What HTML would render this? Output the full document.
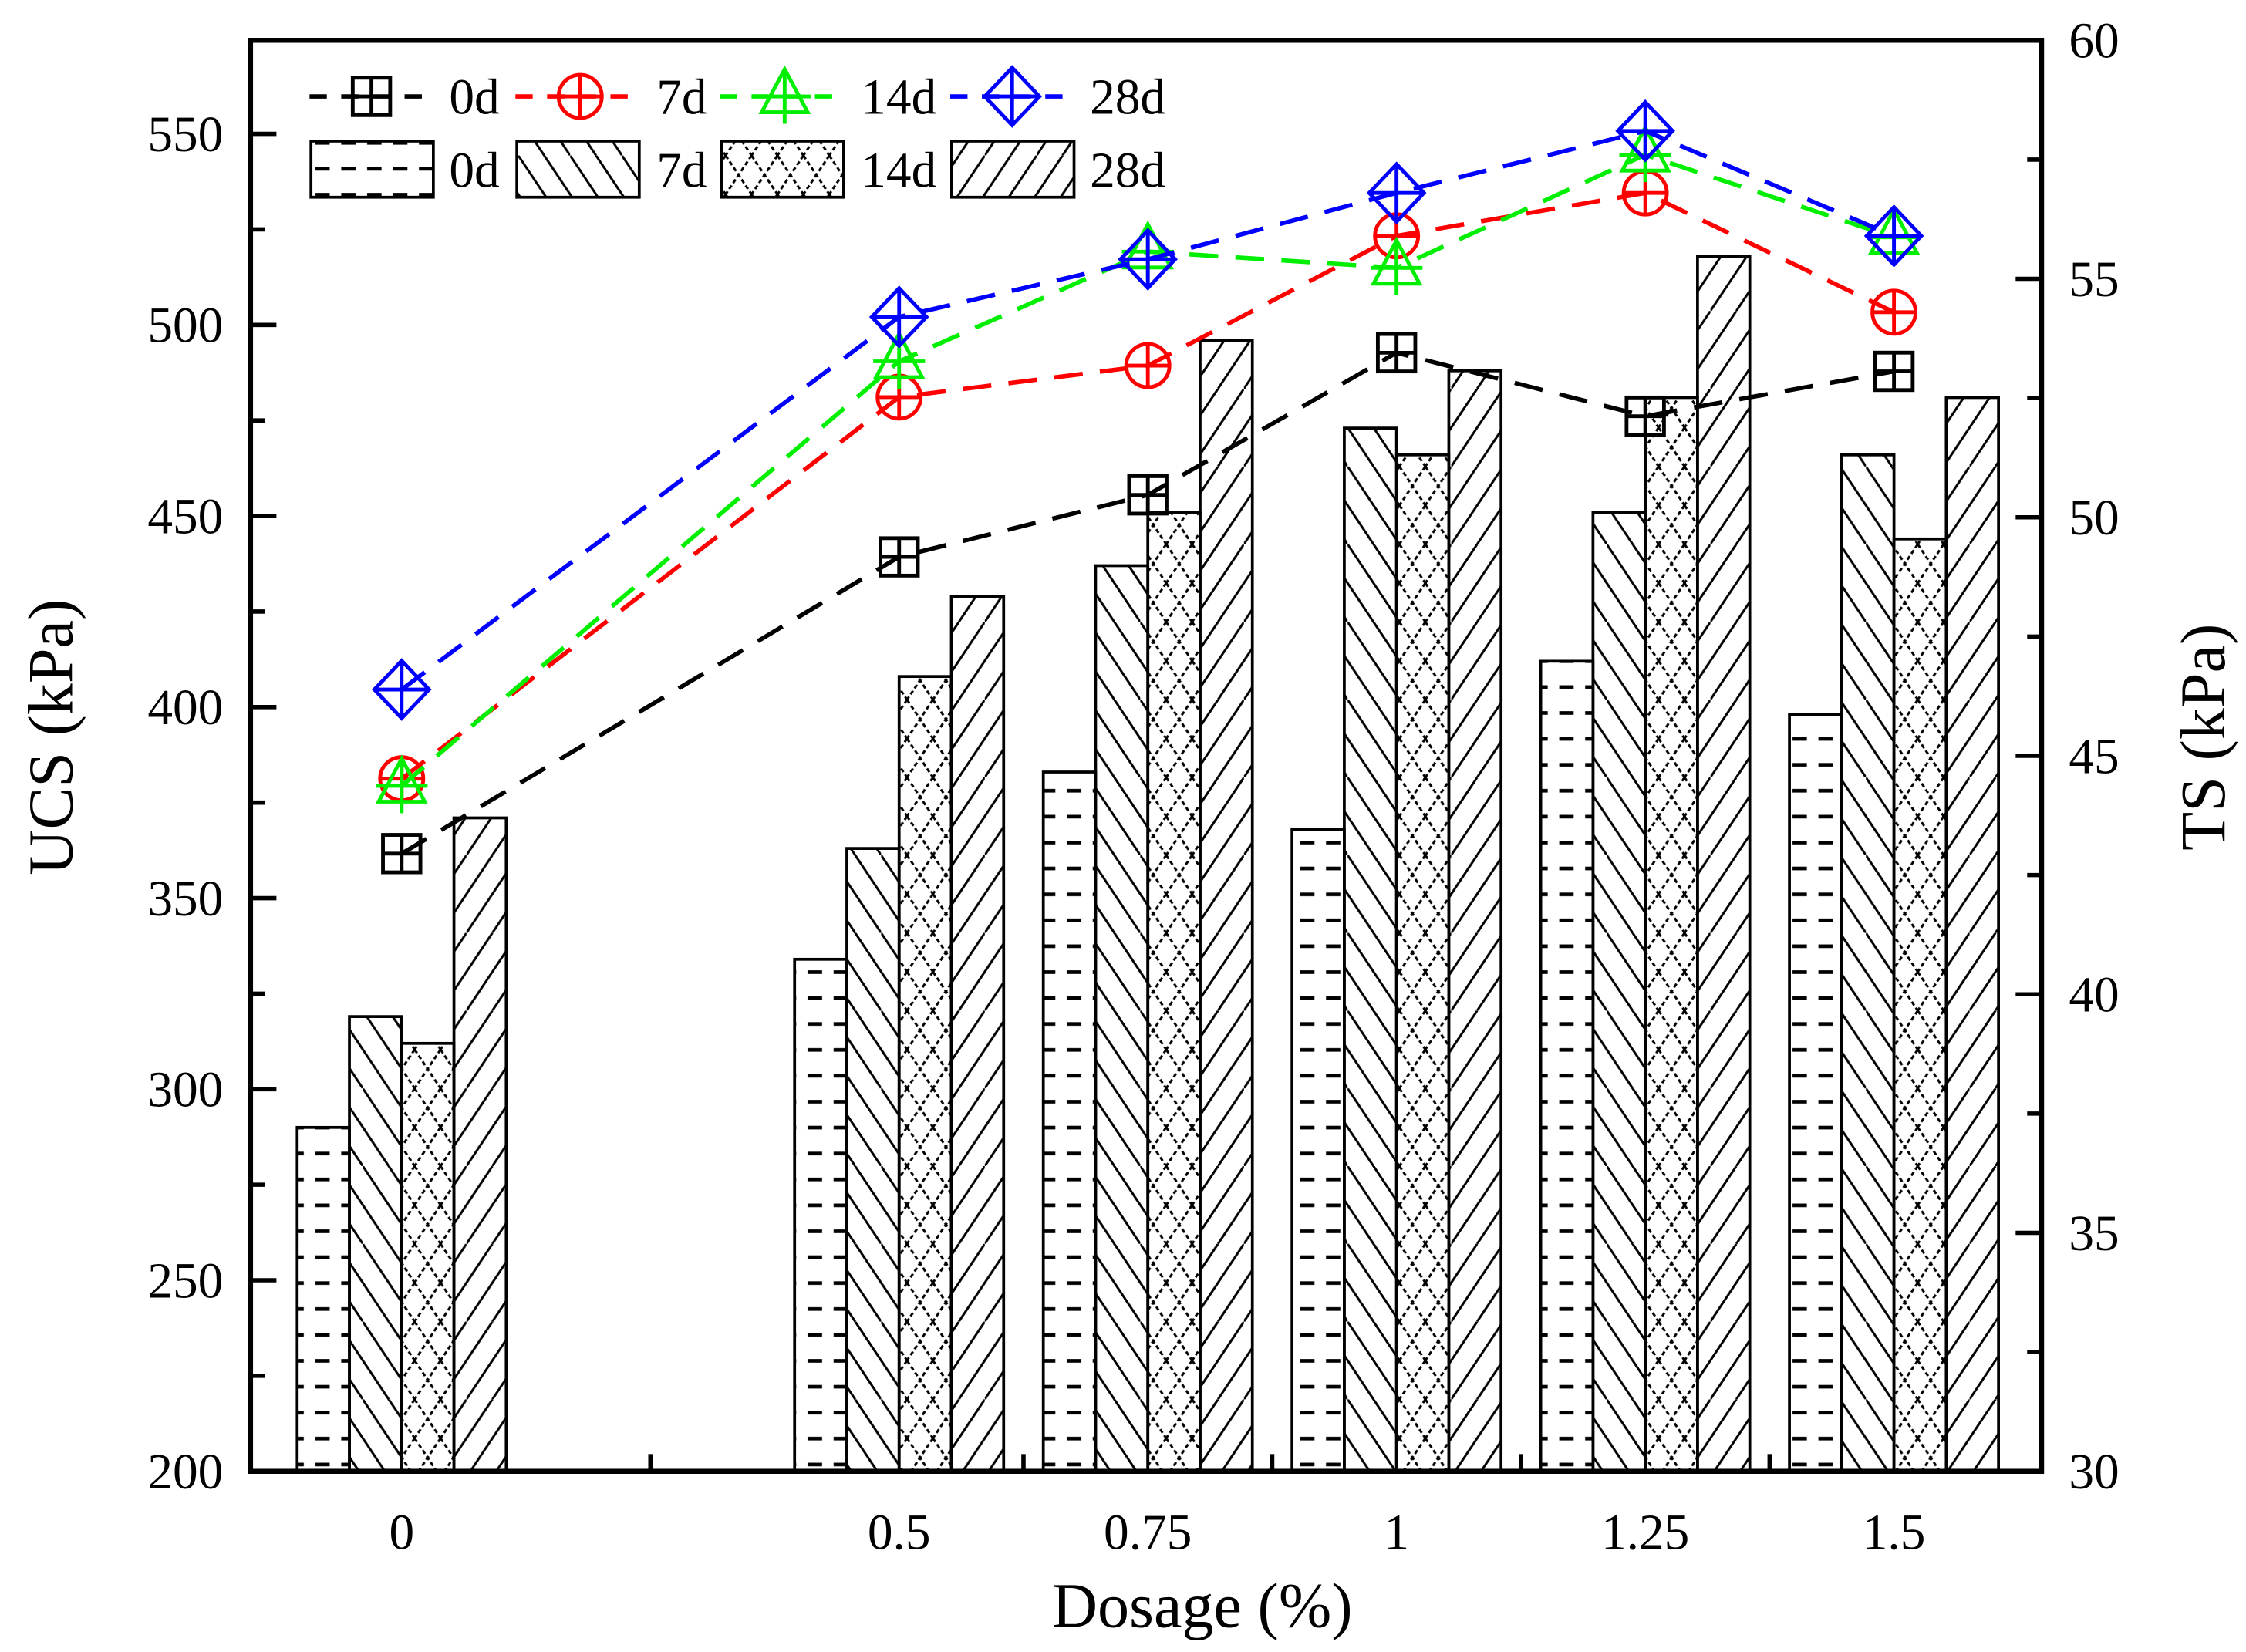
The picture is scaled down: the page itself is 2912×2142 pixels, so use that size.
<!DOCTYPE html>
<html><head><meta charset="utf-8"><style>
html,body{margin:0;padding:0;background:#fff;}
svg{display:block;font-family:"Liberation Serif",serif;}
</style></head><body>
<svg id="chart" width="2912" height="2142" viewBox="0 0 1560 1147.5" xmlns="http://www.w3.org/2000/svg">
<defs>
<pattern id="p0" patternUnits="userSpaceOnUse" width="36" height="18" x="0" y="0"><rect x="3" y="8" width="10" height="2.5" fill="#000"/><rect x="21" y="8" width="10" height="2.5" fill="#000"/></pattern>
<pattern id="p7" patternUnits="userSpaceOnUse" width="36" height="54"><path d="M-18,0 L18,54 M0,0 L36,54 M18,0 L54,54 M-18,-54 L54,54" stroke="#000" stroke-width="1.6"/></pattern>
<pattern id="p14" patternUnits="userSpaceOnUse" width="18" height="27"><path d="M0,0 L18,27 M18,0 L0,27" stroke="#000" stroke-width="1.6" stroke-dasharray="3,2"/></pattern>
<pattern id="p28" patternUnits="userSpaceOnUse" width="36" height="54"><path d="M-18,54 L18,0 M0,54 L36,0 M18,54 L54,0" stroke="#000" stroke-width="1.6"/></pattern>
</defs>
<g id="bars"></g>
<g id="lines"></g>
<g id="axes"></g>
<g id="legend"></g>
</svg>
<script>
const dosages=[0,0.5,0.75,1,1.25,1.5];
const xTickLabels=["0","0.5","0.75","1","1.25","1.5"];
const ucs0=[290,334,383,368,412,398];
const ucs7=[319,363,437,473,451,466];
const ucs14=[312,408,451,466,481,444];
const ucs28=[371,429,496,488,518,481];
const ts0=[42.95,49.17,50.47,53.45,52.12,53.06];
const ts7=[44.52,52.52,53.18,55.9,56.8,54.3];
const ts14=[44.37,53.27,55.57,55.23,57.6,55.87];
const ts28=[46.39,54.2,55.41,56.8,58.1,55.9];
const leftTicks=[200,250,300,350,400,450,500,550];
const rightTicks=[30,35,40,45,50,55,60];

const NS="http://www.w3.org/2000/svg";
const L=174,R=1418,T=28,B=1022;
const xs=d=>279+d*691;
const yl=v=>B-(v-200)*(B-93)/350;
const yr=v=>B-(v-30)*(B-T)/30;
function mk(tag,attrs,parent,text){const e=document.createElementNS(NS,tag);for(const k in attrs)e.setAttribute(k,attrs[k]);if(text!==undefined)e.textContent=text;parent.appendChild(e);return e;}
const gb=document.getElementById('bars'),gl=document.getElementById('lines'),ga=document.getElementById('axes'),gg=document.getElementById('legend');
const bw=36.3;
const barSets=[[ucs0,'p0','0d'],[ucs7,'p7','7d'],[ucs14,'p14','14d'],[ucs28,'p28','28d']];
barSets.forEach((s,si)=>{s[0].forEach((v,i)=>{
 const x=xs(dosages[i])-2*bw+si*bw;
 const r=mk('rect',{x:x,y:yl(v),width:bw,height:B-yl(v),fill:'url(#'+s[1]+')',stroke:'#000','stroke-width':2},gb);
 
 
});});
function marker(type,cx,cy,col,g){
 const a={fill:'none',stroke:col,'stroke-width':2.6};
 if(type==='sq'){mk('rect',Object.assign({x:cx-13,y:cy-13,width:26,height:26},a),g);mk('path',Object.assign({d:`M${cx-13},${cy}H${cx+13}M${cx},${cy-13}V${cy+13}`},a),g);}
 if(type==='ci'){mk('circle',Object.assign({cx:cx,cy:cy,r:15},a),g);mk('path',Object.assign({d:`M${cx-15},${cy}H${cx+15}M${cx},${cy-15}V${cy+15}`},a),g);}
 if(type==='tr'){mk('path',Object.assign({d:`M${cx},${cy-19}L${cx+16},${cy+11}L${cx-16},${cy+11}Z M${cx-18},${cy}H${cx+18}M${cx},${cy-19}V${cy+19}`},a),g);}
 if(type==='di'){mk('path',Object.assign({d:`M${cx},${cy-20}L${cx+19},${cy}L${cx},${cy+20}L${cx-19},${cy}Z M${cx-19},${cy}H${cx+19}M${cx},${cy-20}V${cy+20}`},a),g);}
}
const lineSets=[[ts0,'#000','sq','0d'],[ts7,'#f00','ci','7d'],[ts14,'#0e0','tr','14d'],[ts28,'#00f','di','28d']];
lineSets.forEach(s=>{
 const g=mk('g',{},gl);
 
 
 const pts=s[0].map((v,i)=>xs(dosages[i])+','+yr(v)).join(' ');
 mk('polyline',{points:pts,fill:'none',stroke:s[1],'stroke-width':3,'stroke-dasharray':'20,12'},g);
 s[0].forEach((v,i)=>marker(s[2],xs(dosages[i]),yr(v),s[1],g));
});
// axes
mk('rect',{x:L,y:T,width:R-L,height:B-T,fill:'none',stroke:'#000','stroke-width':3.5},ga);
leftTicks.forEach(v=>{mk('line',{x1:L,x2:L+18,y1:yl(v),y2:yl(v),stroke:'#000','stroke-width':3},ga);
 const t=mk('text',{x:155,y:yl(v)+12,'text-anchor':'end','font-size':35},ga,String(v));
 
 if(v<550){mk('line',{x1:L,x2:L+10,y1:yl(v+25),y2:yl(v+25),stroke:'#000','stroke-width':3},ga);}});
rightTicks.forEach(v=>{mk('line',{x1:R,x2:R-18,y1:yr(v),y2:yr(v),stroke:'#000','stroke-width':3},ga);
 const t=mk('text',{x:1437,y:yr(v)+12,'text-anchor':'start','font-size':35},ga,String(v));
 
 if(v<60){mk('line',{x1:R,x2:R-10,y1:yr(v+2.5),y2:yr(v+2.5),stroke:'#000','stroke-width':3},ga);}});
dosages.forEach((d,i)=>{
 const t=mk('text',{x:xs(d),y:1076,'text-anchor':'middle','font-size':35},ga,xTickLabels[i]);
 });
[0.25,0.625,0.875,1.125,1.375].forEach(d=>mk('line',{x1:xs(d),x2:xs(d),y1:B,y2:B-12,stroke:'#000','stroke-width':3},ga));
let t=mk('text',{x:835,y:1130,'text-anchor':'middle','font-size':44},ga,'Dosage (%)');

t=mk('text',{x:0,y:0,'text-anchor':'middle','font-size':44,transform:'translate(50,512) rotate(-90)'},ga,'UCS (kPa)');

t=mk('text',{x:0,y:0,'text-anchor':'middle','font-size':44,transform:'translate(1545,512) rotate(-90)'},ga,'TS (kPa)');

// legend
const lx=[[215,258,312],[358,403,456],[500,545,598],[660,703,757]];
lineSets.forEach((s,i)=>{
 const g=mk('g',{},gg);
 
 
 mk('line',{x1:lx[i][0],x2:lx[i][0]+87,y1:67,y2:67,stroke:s[1],'stroke-width':3,'stroke-dasharray':'12,10'},g);
 marker(s[2],lx[i][1],67,s[1],g);
 mk('text',{x:lx[i][2],y:79,'font-size':35},g,s[3]);
});
barSets.forEach((s,i)=>{
 const g=mk('g',{},gg);
 
 
 mk('rect',{x:lx[i][0]+1,y:98,width:85,height:39,fill:'url(#'+s[1]+')',stroke:'#000','stroke-width':2},g);
 mk('text',{x:lx[i][2],y:130,'font-size':35},g,s[2]);
});
</script>
</body></html>
